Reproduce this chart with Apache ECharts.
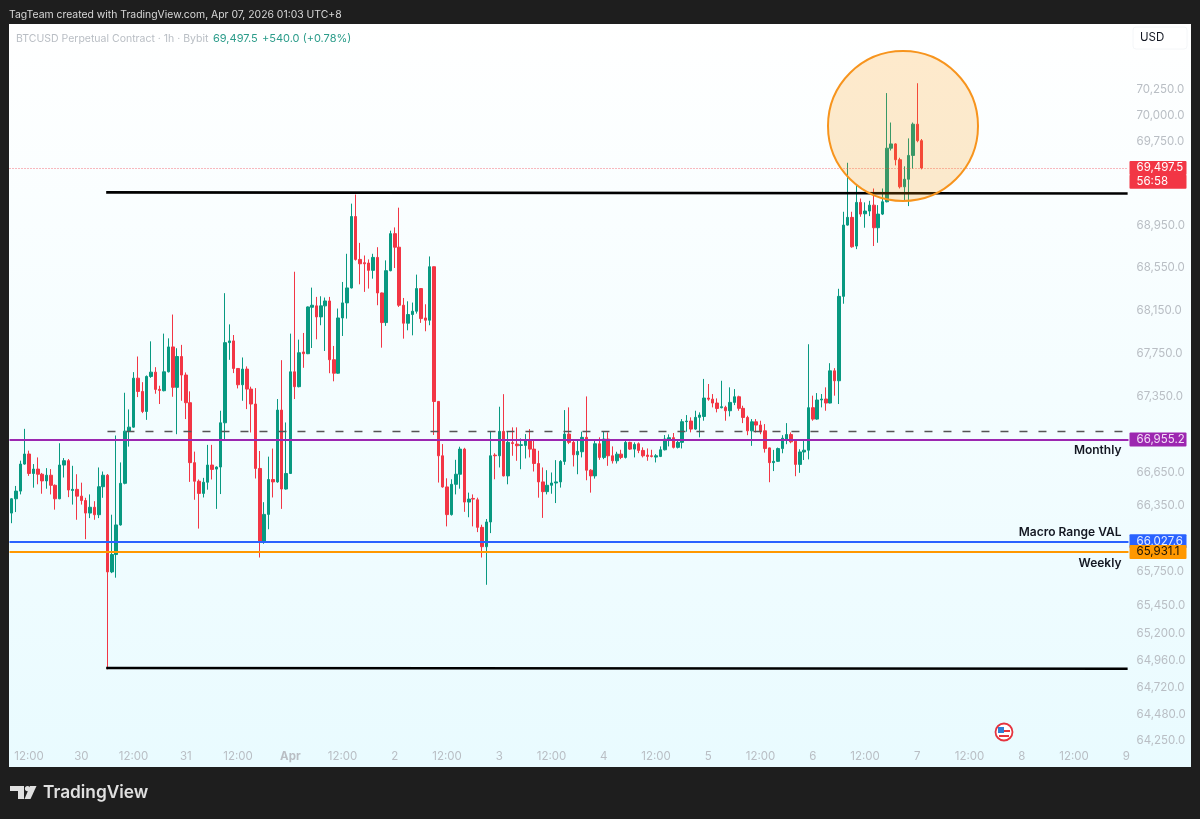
<!DOCTYPE html>
<html>
<head>
<meta charset="utf-8">
<style>
  html, body { margin: 0; padding: 0; background: #1e1e1e; }
  #main { width: 1200px; height: 819px; }
</style>
<script src="https://cdn.jsdelivr.net/npm/echarts@6/dist/echarts.min.js"></script>
</head>
<body>
<div id="main"></div>
<script>
// hourly candles, first one is Mar 29 08:00, last one Apr 7 01:00
const opens = [
  66284,66414,66484,66731,66823,66645,66685,66638,66577,66629,
  66537,66414,66722,66762,66490,66500,66438,66398,66284,66337,
  66269,66524,66629,65751,65908,66176,66555,67033,67070,67522,
  67399,67214,67538,67578,67418,67406,67581,67812,67437,67723,
  67551,67295,66744,66574,66463,66565,66722,66685,66704,67110,
  67852,67868,67612,67461,67606,67421,67283,66691,66026,66272,
  66590,66568,67227,66503,66645,67581,67443,67765,67749,68182,
  68195,68092,68195,68241,67693,67568,68082,68223,68363,69036,
  68631,68600,68597,68528,68650,68316,68039,68525,68874,68746,
  68201,68033,68114,68145,68357,68082,68061,68562,67307,66807,
  66522,66270,66546,66638,66868,66384,66417,66405,66154,65979,
  66203,66813,66807,67031,66623,66927,66914,66902,66902,66945,
  66868,66736,66568,66479,66537,66558,66568,66755,67006,66930,
  66816,66844,66976,66675,66623,66917,66792,66960,66807,66761,
  66822,66792,66930,66868,66917,66856,66813,66807,66795,66801,
  66862,66960,66973,66884,66930,67120,67126,67052,67160,67168,
  67338,67328,67292,67249,67252,67221,67298,67350,67243,67159,
  67036,67119,67089,67036,66879,66744,66756,66873,66959,67002,
  66941,66728,66842,66858,67249,67144,67320,67329,67292,67590,
  67498,68284,68955,69028,68757,69170,69062,69088,69144,68930,
  69059,69176,69686,69727,69576,69318,69390,69617,69916,69758
];
const closes = [
  66414,66484,66731,66823,66645,66685,66638,66577,66629,66537,
  66414,66722,66762,66494,66500,66438,66398,66284,66337,66269,
  66524,66629,65751,65908,66176,66555,67033,67070,67522,67399,
  67214,67538,67578,67418,67409,67581,67812,67437,67723,67551,
  67295,66744,66574,66463,66565,66722,66682,66704,67110,67852,
  67868,67612,67461,67606,67421,67283,66691,66026,66272,66590,
  66568,67227,66503,66645,67581,67443,67758,67749,68185,68201,
  68092,68195,68241,67693,67568,68082,68223,68363,69036,68631,
  68590,68590,68528,68650,68316,68039,68525,68874,68746,68201,
  68033,68114,68145,68357,68076,68061,68562,67306,66807,66522,
  66270,66546,66638,66868,66384,66411,66411,66154,65979,66203,
  66807,66807,67031,66623,66930,66920,66899,66908,66945,66868,
  66736,66568,66479,66537,66558,66568,66755,67006,66930,66816,
  66847,66976,66675,66623,66917,66792,66960,66807,66761,66822,
  66792,66930,66868,66911,66856,66807,66801,66801,66807,66862,
  66960,66973,66884,66930,67120,67126,67052,67160,67181,67338,
  67328,67292,67242,67258,67221,67298,67350,67243,67159,67036,
  67119,67089,67027,66873,66744,66756,66873,66968,67002,66935,
  66728,66842,66858,67249,67144,67320,67329,67292,67590,67498,
  68284,68955,69028,68750,69170,69059,69088,69144,68930,69059,
  69176,69686,69727,69576,69318,69390,69617,69916,69758,69497.5
];
const highs = [
  66420,66531,66762,67054,66854,66731,66792,66650,66694,66685,
  66545,66922,66786,66777,66715,66638,66561,66423,66454,66392,
  66700,66663,66640,66269,66993,66746,67387,67233,67578,67723,
  67485,67547,67864,67624,67452,67936,67892,68114,67800,67831,
  67575,67400,66845,66590,66605,66907,66907,66710,67221,68314,
  68022,67923,67615,67714,67631,67443,67430,66851,66383,66799,
  66873,67329,67689,67113,67936,68515,67880,67942,68190,68366,
  68279,68285,68273,68279,67821,68170,68419,68684,69158,69245,
  68787,68668,68631,68684,68746,68320,68622,68902,68933,69120,
  68269,68238,68226,68488,68360,68210,68659,68565,67310,66914,
  66601,66592,66770,66890,66880,66470,66454,66424,66178,66230,
  67031,66830,67258,67374,67031,67068,67068,66966,67006,67052,
  66945,66853,66700,66675,66654,66767,66767,67227,67252,66960,
  66945,67028,67353,66684,66945,66976,67028,67022,66893,66844,
  66862,66945,66936,66930,66930,66884,66874,66862,66822,66893,
  66997,67003,67016,66945,67144,67181,67160,67221,67206,67515,
  67468,67375,67335,67498,67267,67437,67421,67360,67267,67175,
  67144,67144,67129,67098,66882,66861,66882,66996,67107,67021,
  66953,66867,66944,67837,67360,67384,67375,67437,67661,67615,
  68355,69081,69547,69081,69333,69207,69170,69185,69302,69144,
  69302,70215,69932,69733,69595,69513,69780,69932,70310,69774
];
const lows = [
  66192,66293,66454,66725,66623,66515,66546,66460,66506,66454,
  66315,66410,66608,66429,66361,66223,66361,66047,66238,66223,
  66238,66423,64878,65740,65699,66170,66546,66891,67065,67347,
  67199,67137,67525,67378,67283,67400,67575,67350,67005,67313,
  67144,66568,66405,66143,66426,66497,66590,66322,66457,66959,
  67692,67569,67427,67313,67236,67021,66599,65881,66005,66137,
  66426,66560,66322,66498,66640,67329,67437,67618,67745,67802,
  67883,68014,67774,67568,67493,67563,67914,68076,68358,68620,
  68397,68326,68357,68450,68201,67805,68008,68519,68550,68185,
  67889,67967,67920,68123,68036,67958,68014,66998,66562,66515,
  66163,66261,66454,66506,66295,66246,66163,66111,65881,65635,
  66102,66592,66700,66618,66546,66807,66761,66684,66782,66792,
  66663,66424,66240,66454,66460,66375,66516,66724,66914,66709,
  66638,66792,66583,66470,66598,66770,66776,66715,66736,66736,
  66776,66782,66860,66792,66831,66792,66761,66792,66746,66795,
  66856,66893,66874,66874,66874,67028,67022,67046,66976,67129,
  67313,67252,67206,67243,67129,67169,67273,67221,67107,66996,
  66898,67021,67005,66836,66565,66667,66750,66830,66913,66922,
  66620,66651,66768,66774,67129,67138,67252,67221,67289,67360,
  67283,68215,68950,68741,68728,69034,68930,69040,68757,68788,
  69050,69170,69664,69522,69302,69192,69135,69491,69743,69484
];

const priceTicks = [70250, 70000, 69750, 68950, 68550, 68150, 67750, 67350, 66650, 66350,
  65750, 65450, 65200, 64960, 64720, 64480, 64250];
const dayNames = ['29', '30', '31', 'Apr', '2', '3', '4', '5', '6', '7', '8', '9'];
const slotCount = 257; // empty hours to the right of the last candle are part of the axis
const firstHour = 8;

const lastPrice = 69497.5;
const countdownLevel = 69365; // sits just under the last price tag
const monthly = 66955.2;
const macroVal = 66027.6;
const weekly = 65931.1;
const dashedLevel = 67033;
const upperBox = [69265, 69255];
const lowerBox = [64890, 64883];
const boxStart = 22;

const GREEN = '#089981';
const RED = '#f23645';
const GREY = '#b9bec4';
const FONT = 'Inter, Roboto, sans-serif';

const categories = [];
for (let i = 0; i < slotCount; i++) {
  const h = i + firstHour;
  categories.push(dayNames[Math.floor(h / 24)] + ' ' + String(h % 24).padStart(2, '0') + ':00');
}
const candles = opens.map((o, i) => [o, closes[i], lows[i], highs[i]]);
const fmt = v => v.toLocaleString('en-US', { minimumFractionDigits: 1, maximumFractionDigits: 1 });

const hidden = { color: 'transparent', width: 0 };
const tickLines = priceTicks.map(v => ({
  yAxis: v,
  lineStyle: hidden,
  label: { show: true, position: 'end', distance: 8, formatter: fmt(v), color: GREY, fontSize: 11.5, fontFamily: FONT }
}));

const tagLabel = (text, bg, fg) => ({
  show: true, position: 'end', distance: 1, formatter: text, width: 46, align: 'left',
  backgroundColor: bg, color: fg, fontSize: 11.5, fontFamily: FONT,
  padding: [1, 4, 1, 7], borderRadius: 1, lineHeight: 12
});
const tag = (value, text, bg, fg) => ({
  yAxis: value,
  lineStyle: { color: bg, width: 2, type: 'solid' },
  label: tagLabel(text, bg, fg)
});
const nameLabel = (value, text, position, gap) => ({
  yAxis: value,
  lineStyle: hidden,
  label: {
    show: true, position: position, distance: [7, gap], formatter: text,
    color: '#131722', fontSize: 12, fontWeight: 600, fontFamily: FONT
  }
});
const box = (values) => [
  { coord: [categories[boxStart], values[0]], lineStyle: { color: '#000', width: 2.6, type: 'solid', cap: 'square' } },
  { coord: [categories[slotCount - 1], values[1]] }
];

const chart = echarts.init(document.getElementById('main'));
chart.setOption({
  animation: false,
  backgroundColor: '#1e1e1e',
  grid: { left: 9.5, right: 71.5, top: 25.5, height: 721 },
  xAxis: {
    type: 'category',
    data: categories,
    boundaryGap: true,
    axisLine: { show: false },
    axisTick: { show: false },
    splitLine: { show: false },
    axisLabel: {
      interval: i => (i + firstHour) % 12 === 0,
      hideOverlap: false,
      margin: 4,
      color: GREY,
      fontSize: 11.5,
      fontFamily: FONT,
      formatter: (name, i) => {
        const h = i + firstHour;
        if (h % 24 === 12) return '12:00';
        const d = dayNames[h / 24];
        return d === 'Apr' ? '{b|Apr}' : d;
      },
      rich: { b: { fontWeight: 700, color: GREY, fontSize: 11.5, fontFamily: FONT } }
    }
  },
  yAxis: {
    type: 'log',
    logBase: 10,
    min: 64195,
    max: 70869,
    axisLine: { show: false },
    axisTick: { show: false },
    axisLabel: { show: false },
    splitLine: { show: false },
    minorSplitLine: { show: false }
  },
  series: [{
    type: 'candlestick',
    data: candles,
    barWidth: 3,
    itemStyle: { color: GREEN, color0: RED, borderColor: GREEN, borderColor0: RED, borderWidth: 1 },
    markLine: {
      silent: true,
      animation: false,
      symbol: 'none',
      precision: 1,
      data: [
        ...tickLines,
        [
          { coord: [categories[boxStart], dashedLevel], lineStyle: { color: '#555', width: 1.3, type: [8, 11] } },
          { coord: [categories[slotCount - 1], dashedLevel] }
        ],
        box(upperBox),
        box(lowerBox),
        { yAxis: lastPrice, lineStyle: { color: 'rgba(242,54,69,0.7)', width: 1, type: [1, 2] },
          label: tagLabel(fmt(lastPrice), RED, '#fff') },
        { yAxis: countdownLevel, lineStyle: hidden, label: tagLabel('56:58', RED, '#fff') },
        tag(monthly, fmt(monthly), '#9c27b0', '#f3dcf7'),
        tag(macroVal, fmt(macroVal), '#2962ff', '#e3ebff'),
        tag(weekly, fmt(weekly), '#ff9800', '#1a1205'),
        nameLabel(monthly, 'Monthly', 'insideEndBottom', 5),
        nameLabel(macroVal, 'Macro Range VAL', 'insideEndTop', 3),
        nameLabel(weekly, 'Weekly', 'insideEndBottom', 5)
      ]
    }
  }],
  graphic: [
    { type: 'rect', z: -1, shape: { x: 9, y: 24, width: 1182, height: 743 },
      style: { fill: new echarts.graphic.LinearGradient(0, 0, 0, 1, [
        { offset: 0, color: '#ffffff' }, { offset: 1, color: '#e9fbff' }
      ]) } },
    { type: 'circle', z: 50, shape: { cx: 903, cy: 126, r: 75 },
      style: { fill: 'rgba(255,152,0,0.2)', stroke: '#f7941d', lineWidth: 2 } },
    { type: 'rect', z: 51, shape: { x: 1133, y: 27, width: 54, height: 22, r: 3 },
      style: { fill: '#fff', stroke: '#f4f6f8', lineWidth: 1 } },
    { type: 'text', z: 52, x: 1140, y: 38, style: { text: 'USD', fill: '#131722', font: '11.5px ' + FONT, textVerticalAlign: 'middle' } },
    { type: 'text', z: 52, x: 9, y: 15, style: { text: 'TagTeam created with TradingView.com, Apr 07, 2026 01:03 UTC+8', fill: '#d8d8d8', font: '10.4px ' + FONT, textVerticalAlign: 'middle' } },
    { type: 'text', z: 52, x: 16, y: 39, style: { text: 'BTCUSD Perpetual Contract · 1h · Bybit', fill: GREY, font: '10.5px ' + FONT, textVerticalAlign: 'middle' } },
    { type: 'text', z: 52, x: 213, y: 39, style: { text: '69,497.5', fill: '#2b9c8a', font: '11px ' + FONT, textVerticalAlign: 'middle' } },
    { type: 'text', z: 52, x: 262, y: 39, style: { text: '+540.0 (+0.78%)', fill: '#2b9c8a', font: '11px ' + FONT, textVerticalAlign: 'middle' } },
    // TradingView logo
    { type: 'polygon', z: 52, shape: { points: [[10, 786], [24, 786], [24, 799], [18, 799], [18, 791], [10, 791]] }, style: { fill: '#e0e0e0' } },
    { type: 'circle', z: 52, shape: { cx: 27.5, cy: 788.6, r: 2.6 }, style: { fill: '#e0e0e0' } },
    { type: 'polygon', z: 52, shape: { points: [[30, 786], [36.5, 786], [30.5, 799], [24.5, 799]] }, style: { fill: '#e0e0e0' } },
    { type: 'text', z: 52, x: 43, y: 793, style: { text: 'TradingView', fill: '#e0e0e0', font: '600 17.3px ' + FONT, textVerticalAlign: 'middle' } },
    // economic event flag
    { type: 'circle', z: 52, shape: { cx: 1004, cy: 732, r: 8.5 }, style: { fill: '#fff', stroke: '#e5343f', lineWidth: 1.8 } },
    { type: 'rect', z: 53, shape: { x: 998, y: 727, width: 6, height: 6 }, style: { fill: '#2f7fd6' } },
    { type: 'rect', z: 53, shape: { x: 1004, y: 730, width: 6, height: 2 }, style: { fill: '#e5343f' } },
    { type: 'rect', z: 53, shape: { x: 999, y: 735, width: 10, height: 2 }, style: { fill: '#e5343f' } }
  ]
});
</script>
</body>
</html>
